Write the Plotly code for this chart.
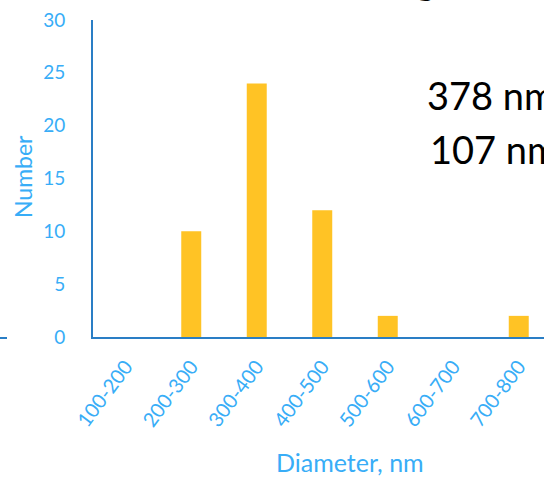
import plotly.graph_objects as go

categories = ["100-200", "200-300", "300-400", "400-500", "500-600", "600-700", "700-800"]
counts = [0, 10, 24, 12, 2, 0, 2]
y_ticks = [0, 5, 10, 15, 20, 25, 30]
stat_lines = ["378 nm", "107 nm"]

W, H = 544, 478
L, T, B = 93, 20, 141
PW, PH = W - L, H - T - B

def px(x):
    return (x - L) / PW

def py(y):
    return (H - B - y) / PH

BLUE = "#2A7EC5"
LBLUE = "#38ADF7"
GOLD = "#FFC325"
FONT = "Lato, 'Open Sans', sans-serif"

fig = go.Figure(go.Bar(
    x=list(range(len(categories))), y=counts, width=0.305,
    marker=dict(color=GOLD, line=dict(width=0)),
))

fig.update_layout(
    width=W, height=H,
    margin=dict(l=L, r=0, t=T, b=B, autoexpand=False),
    paper_bgcolor="white", plot_bgcolor="white",
    showlegend=False,
    font=dict(family=FONT, color=LBLUE),
    xaxis=dict(
        range=[-0.5, (W - L) / 65.5 - 0.5],
        tickmode="array", tickvals=list(range(len(categories))), ticktext=categories,
        tickangle=-53, tickfont=dict(size=20, color=LBLUE, family=FONT),
        showline=True, linecolor=BLUE, linewidth=2,
        showgrid=False, zeroline=False, ticks="", ticklabelstandoff=8,
    ),
    yaxis=dict(
        range=[0, 30], tickmode="array", tickvals=y_ticks,
        tickfont=dict(size=19, color=LBLUE, family=FONT),
        showline=True, linecolor=BLUE, linewidth=2,
        showgrid=False, zeroline=False, ticks="", ticklabelstandoff=22,
    ),
)

annotations = [
    dict(text="Number", x=px(23), y=py(177), xref="paper", yref="paper",
         textangle=-90, showarrow=False, xanchor="center", yanchor="middle",
         font=dict(size=23, color=LBLUE, family=FONT)),
    dict(text="Diameter, nm", x=px(350), y=py(462), xref="paper", yref="paper",
         showarrow=False, xanchor="center", yanchor="middle", borderpad=0,
         font=dict(size=25, color=LBLUE, family=FONT)),
    dict(text=stat_lines[0], x=px(425), y=py(95), xref="paper", yref="paper",
         showarrow=False, xanchor="left", yanchor="middle",
         font=dict(size=38, color="black", family=FONT)),
    dict(text=stat_lines[1], x=px(428), y=py(149), xref="paper", yref="paper",
         showarrow=False, xanchor="left", yanchor="middle",
         font=dict(size=38, color="black", family=FONT)),
    dict(text="g", x=px(426), y=py(-21), xref="paper", yref="paper",
         showarrow=False, xanchor="center", yanchor="middle",
         font=dict(size=38, color="black", family=FONT)),
]
fig.update_layout(annotations=annotations)

fig.add_shape(type="line", xref="paper", yref="paper",
              x0=px(0), x1=px(7), y0=py(338), y1=py(338),
              line=dict(color=BLUE, width=2))

fig.write_html("out.html", config={"displayModeBar": False},
               post_script="document.body.style.margin='0';document.body.style.overflow='hidden';")
